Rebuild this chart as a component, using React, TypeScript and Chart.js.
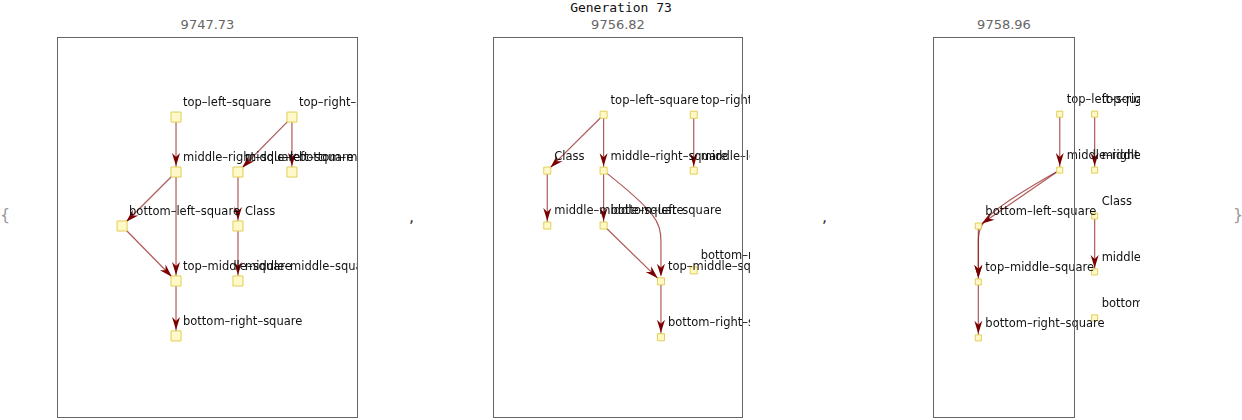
import { useRef, useEffect } from "react"
import { Chart, registerables, type ChartConfiguration } from "chart.js"

Chart.register(...registerables)

// node layout coordinates (page pixel units) per panel
const names = ["top-left-square", "top-right-square", "middle-right-square", "middle-left-square", "bottom-middle-square",
  "bottom-left-square", "Class", "top-middle-square", "middle-middle-square", "bottom-right-square"]

const xs1 = [176, 292, 176, 238, 292, 122, 238, 176, 238, 176]
const ys1 = [117, 117, 172, 172, 172, 226, 226, 281, 281, 336]
const edges1: [number, number, number][] = [[0, 2, 0], [1, 3, 0], [1, 4, 0], [2, 5, 0], [2, 7, 0], [5, 7, 0], [3, 6, 0], [6, 8, 0], [7, 9, 0]]

const xs2 = [601, 689, 601, 689, 689, 601, 546, 657, 546, 657]
const ys2 = [115, 115, 171, 171, 271, 226, 171, 282, 226, 338]
const edges2: [number, number, number][] = [[0, 6, 0], [0, 2, 0], [1, 3, 0], [6, 8, 0], [2, 5, 0], [2, 7, 1], [5, 7, 0], [7, 9, 0]]

const xs3 = [1020, 1044, 1020, 1044, 1044, 964, 1044, 964, 1044, 964]
const ys3 = [114, 114, 170, 170, 318, 226, 216, 282, 272, 338]
const edges3: [number, number, number][] = [[0, 2, 0], [1, 3, 0], [2, 5, 0], [2, 7, 1], [5, 7, 0], [6, 8, 0], [7, 9, 0]]

const scores = ["9747.73", "9756.82", "9758.96"]
const frames = [[57, 37, 358, 418], [493, 37, 743, 418], [933, 37, 1075, 418]]
const clipRights = [358, 750, 1140]

function Panel({ xs, ys, edges, frame, score, size, clipRight }: {
  xs: number[]; ys: number[]; edges: [number, number, number][]; frame: number[]; score: string; size: number; clipRight: number
}) {
  const canvasRef = useRef<HTMLCanvasElement>(null)
  const chartRef = useRef<Chart | null>(null)
  const [l, t, r, b] = frame

  useEffect(() => {
    const canvas = canvasRef.current
    if (!canvas) return
    if (chartRef.current) chartRef.current.destroy()

    const graphPlugin = {
      id: "graph",
      beforeDatasetsDraw(chart: Chart) {
        const ctx = chart.ctx
        const sx = chart.scales.x, sy = chart.scales.y
        ctx.save()
        edges.forEach(([a, c, curved]) => {
          const x1 = sx.getPixelForValue(xs[a]), y1 = sy.getPixelForValue(ys[a])
          const x2 = sx.getPixelForValue(xs[c]), y2 = sy.getPixelForValue(ys[c])
          let ax = x2 - x1, ay = y2 - y1
          ctx.strokeStyle = "rgba(140,20,20,0.7)"
          ctx.lineWidth = 1.2
          ctx.beginPath()
          ctx.moveTo(x1, y1)
          if (curved) {
            const my = y1 + (y2 - y1) * 0.55
            ctx.bezierCurveTo(x1 + (x2 - x1) * 0.9, my - 20, x2, my - 10, x2, my + 10)
            ctx.lineTo(x2, y2 - size)
            ax = 0; ay = 1
          } else {
            ctx.lineTo(x2, y2)
          }
          ctx.stroke()
          const len = Math.hypot(ax, ay)
          const ux = ax / len, uy = ay / len
          const ex = x2 - ux * (size / 2 + 1), ey = y2 - uy * (size / 2 + 1)
          ctx.fillStyle = "#7a0000"
          ctx.beginPath()
          ctx.moveTo(ex, ey)
          ctx.lineTo(ex - ux * 13 - uy * 4, ey - uy * 13 + ux * 4)
          ctx.lineTo(ex - ux * 9, ey - uy * 9)
          ctx.lineTo(ex - ux * 13 + uy * 4, ey - uy * 13 - ux * 4)
          ctx.closePath()
          ctx.fill()
        })
        ctx.restore()
      },
      afterDatasetsDraw(chart: Chart) {
        const ctx = chart.ctx
        const sx = chart.scales.x, sy = chart.scales.y
        ctx.save()
        ctx.font = "11.5px 'DejaVu Sans'"
        ctx.fillStyle = "#111"
        ctx.textBaseline = "middle"
        names.forEach((n, i) => {
          ctx.fillText(n.replace(/-/g, "\u2013"), sx.getPixelForValue(xs[i]) + 7, sy.getPixelForValue(ys[i]) - 14)
        })
        ctx.restore()
      },
    }

    const make = () => {
      const config: ChartConfiguration = {
        type: "scatter",
        data: {
          datasets: [{
            data: xs.map((x, i) => ({ x, y: ys[i] })),
            pointStyle: "rect",
            pointRadius: size / 2 * 1.42,
            backgroundColor: "#fff8c8",
            borderColor: "#e2cf55",
            borderWidth: 1,
            clip: false,
          }],
        },
        options: {
          animation: false,
          responsive: false,
          layout: { padding: 0 },
          plugins: { legend: { display: false }, tooltip: { enabled: false } },
          scales: {
            x: { type: "linear", display: false, min: l, max: r },
            y: { type: "linear", display: false, min: t, max: b, reverse: true },
          },
        },
        plugins: [graphPlugin],
      }
      return new Chart(canvas, config)
    }

    // first pass: measure the automatic padding, then enlarge the canvas so the plot area matches the frame
    const W = r - l, H = b - t
    canvas.width = W; canvas.height = H
    let chart = make()
    const pl = chart.chartArea.left, pt = chart.chartArea.top
    const pr = W - chart.chartArea.right, pb = H - chart.chartArea.bottom
    chart.destroy()
    const extra = clipRight - r
    canvas.width = W + pl + pr + extra
    canvas.height = H + pt + pb
    canvas.style.width = canvas.width + "px"
    canvas.style.height = canvas.height + "px"
    canvas.style.left = -pl + "px"
    canvas.style.top = -pt + "px"
    chart = make()
    // second pass may scale differently because of the extra width; correct x scale range
    chartRef.current = chart
    return () => { chartRef.current?.destroy() }
  }, [xs, ys, edges, l, t, r, b, size, clipRight])

  return (
    <>
      <div style={{ position: "absolute", left: l, top: 17, width: r - l, textAlign: "center", color: "#666", font: "13px 'DejaVu Sans'" }}>{score}</div>
      <div style={{ position: "absolute", left: l, top: t, width: clipRight - l, height: b - t, overflow: "hidden" }}>
        <canvas ref={canvasRef} style={{ position: "absolute" }} />
      </div>
      <div style={{ position: "absolute", left: l, top: t, width: r - l, height: b - t, border: "1px solid #666", boxSizing: "border-box" }} />
    </>
  )
}

export default function App() {
  const txt = { position: "absolute" as const, font: "16px 'DejaVu Sans'", color: "#333" }
  return (
    <div style={{ position: "absolute", left: 0, top: 0, width: 1242, height: 420, background: "#fff", overflow: "hidden" }}>
      <div style={{ position: "absolute", left: 0, width: 1242, top: 0, textAlign: "center", font: "13px 'DejaVu Sans Mono'", color: "#111" }}>Generation 73</div>
      <div style={{ ...txt, left: 0, top: 205, color: "#999" }}>{"{"}</div>
      <div style={{ ...txt, left: 409, top: 207 }}>,</div>
      <div style={{ ...txt, left: 822, top: 207 }}>,</div>
      <div style={{ ...txt, left: 1233, top: 205, color: "#999" }}>{"}"}</div>
      <Panel xs={xs1} ys={ys1} edges={edges1} frame={frames[0]} score={scores[0]} size={10} clipRight={clipRights[0]} />
      <Panel xs={xs2} ys={ys2} edges={edges2} frame={frames[1]} score={scores[1]} size={7} clipRight={clipRights[1]} />
      <Panel xs={xs3} ys={ys3} edges={edges3} frame={frames[2]} score={scores[2]} size={6} clipRight={clipRights[2]} />
    </div>
  )
}
